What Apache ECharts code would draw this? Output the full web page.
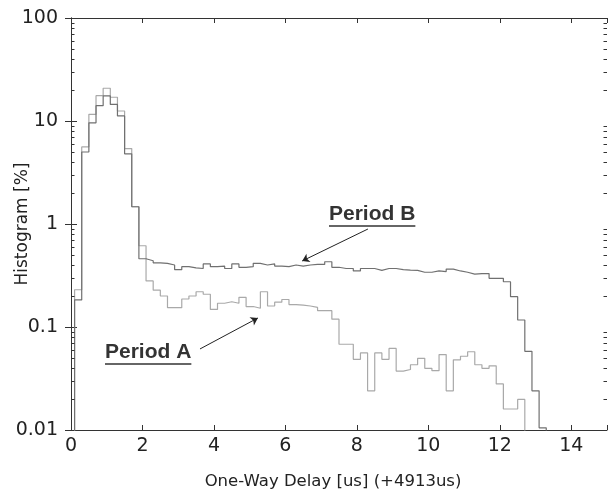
<!DOCTYPE html>
<html><head><meta charset="utf-8">
<script src="https://cdn.jsdelivr.net/npm/echarts@6/dist/echarts.min.js"></script>
<style>html,body{margin:0;padding:0;background:#fff}#c{width:608px;height:493px}</style>
</head><body><div id="c"></div>
<script>
// Histogram bins: left edge of first bin and bin width (us)
const binStart = 0.1;
const binWidth = 0.2;
// Period A histogram [%] per bin, starting at binStart
const periodA = [0.23, 5.6, 11.6, 17.6, 20.8, 17, 12.5, 5.4, 1.47, 0.615,
  0.28, 0.228, 0.20, 0.154, 0.154, 0.187, 0.20, 0.22, 0.208, 0.148,
  0.17, 0.176, 0.17, 0.194, 0.158, 0.152, 0.22, 0.16, 0.174, 0.185,
  0.165, 0.163, 0.16, 0.155, 0.144, 0.144, 0.119, 0.068, 0.068, 0.0485,
  0.056, 0.024, 0.056, 0.0485, 0.062, 0.0373, 0.0387, 0.043, 0.0497, 0.0397,
  0.0377, 0.054, 0.024, 0.048, 0.052, 0.0575, 0.043, 0.0397, 0.042, 0.028,
  0.016, 0.016, 0.0198];
// Period B histogram [%] per bin
const periodB = [0.183, 5.0, 9.6, 14.1, 17.5, 14.5, 11.2, 4.8, 1.47, 0.46,
  0.44, 0.42, 0.415, 0.40, 0.36, 0.385, 0.375, 0.37, 0.41, 0.385,
  0.39, 0.37, 0.41, 0.38, 0.385, 0.415, 0.40, 0.41, 0.39, 0.385,
  0.40, 0.39, 0.40, 0.405, 0.405, 0.43, 0.38, 0.37, 0.37, 0.35,
  0.37, 0.37, 0.355, 0.37, 0.37, 0.36, 0.357, 0.355, 0.34, 0.34,
  0.35, 0.345, 0.365, 0.35, 0.34, 0.326, 0.33, 0.33, 0.297, 0.297,
  0.275, 0.197, 0.117, 0.058, 0.024, 0.0105];
// Axis settings
const xMin = 0, xMax = 15, xStep = 2;
const yMin = 0.01, yMax = 100;
const yDecades = [0.01, 0.1, 1, 10];
const yMinorMultipliers = [2, 3, 4, 5, 6, 7, 8, 9];
const floorValue = 0.001; // below axis => drawn to the bottom edge
// Annotations: label text, arrow start (x,y), arrow tip (x,y)
const annB = { text: 'Period B', from: [8.31, 0.894], to: [6.47, 0.4375] };
const annA = { text: 'Period A', from: [3.61, 0.0612], to: [5.23, 0.1223] };

const yMinorTicks = [];
yDecades.forEach(d => yMinorMultipliers.forEach(m => yMinorTicks.push(+(d * m).toPrecision(3))));

function histPath(vals) {
  const pts = [[binStart, floorValue]];
  vals.forEach((v, i) => pts.push([+(binStart + i * binWidth).toFixed(3), v]));
  const end = +(binStart + vals.length * binWidth).toFixed(3);
  pts.push([end, floorValue]);
  return pts;
}

const axisColor = '#333';
const font = 'DejaVu Sans';
const chart = echarts.init(document.getElementById('c'), null, { renderer: 'canvas' });
chart.setOption({
  animation: false,
  backgroundColor: '#fff',
  grid: { left: 71, right: 1, top: 18, bottom: 63, containLabel: false, outerBoundsMode: 'none' },
  xAxis: [{
    type: 'value', min: xMin, max: xMax, interval: xStep, position: 'bottom',
    name: 'One-Way Delay [us] (+4913us)', nameLocation: 'middle', nameGap: 43, nameMoveOverlap: false,
    nameTextStyle: { fontFamily: font, fontSize: 16.5, color: '#222', padding: [0, 12, 0, 0] },
    axisLine: { show: true, lineStyle: { color: axisColor, width: 1 } },
    axisTick: { show: true, inside: true, length: 5, lineStyle: { color: axisColor } },
    axisLabel: { fontFamily: font, fontSize: 19, color: '#222', margin: 7,
      formatter: v => (v >= xMax ? '' : String(v)) },
    splitLine: { show: false }
  }, {
    type: 'value', min: xMin, max: xMax, interval: xStep, position: 'top',
    axisLine: { show: true, lineStyle: { color: axisColor, width: 1 } },
    axisTick: { show: true, inside: true, length: 5, lineStyle: { color: axisColor } },
    axisLabel: { show: false }, splitLine: { show: false }
  }],
  yAxis: [{
    type: 'log', logBase: 10, min: yMin, max: yMax, position: 'left',
    name: 'Histogram [%]', nameLocation: 'middle', nameGap: 40, nameMoveOverlap: false,
    nameTextStyle: { fontFamily: font, fontSize: 17, color: '#222' },
    axisLine: { show: true, lineStyle: { color: axisColor, width: 1 } },
    axisTick: { show: true, inside: true, length: 6, lineStyle: { color: axisColor } },
    axisLabel: { fontFamily: font, fontSize: 19, color: '#222', margin: 13,
      formatter: v => String(+v.toPrecision(2)) },
    splitLine: { show: false }
  }, {
    type: 'log', logBase: 10, min: yMin, max: yMax, position: 'right',
    axisLine: { show: true, lineStyle: { color: axisColor, width: 1 } },
    axisTick: { show: true, inside: true, length: 6, lineStyle: { color: axisColor } },
    axisLabel: { show: false }, splitLine: { show: false }
  }],
  series: [
    {
      name: 'Period A', type: 'line', step: 'end', data: histPath(periodA),
      xAxisIndex: 0, yAxisIndex: 0, showSymbol: false, clip: true,
      lineStyle: { color: '#a9a9a9', width: 1.2 }, z: 3
    },
    {
      name: 'Period B', type: 'line', step: 'end', data: histPath(periodB),
      xAxisIndex: 0, yAxisIndex: 0, showSymbol: false, clip: true,
      lineStyle: { color: '#707070', width: 1.2 }, z: 4,
      markLine: {
        silent: true, symbol: ['none', 'arrow'], symbolSize: 7, label: { show: false },
        lineStyle: { color: '#222', width: 1, type: 'solid' },
        data: [
          [{ coord: annB.from }, { coord: annB.to }],
          [{ coord: annA.from }, { coord: annA.to }]
        ]
      }
    },
    {
      type: 'custom', xAxisIndex: 0, yAxisIndex: 0, silent: true, z: 5,
      data: yMinorTicks.map(v => [xMin, v]),
      renderItem: (params, api) => {
        const cs = params.coordSys;
        const p = api.coord([xMin, api.value(1)]);
        const st = { stroke: axisColor, lineWidth: 1 };
        const y = Math.round(p[1]) + 0.5;
        return { type: 'group', children: [
          { type: 'line', shape: { x1: cs.x, y1: y, x2: cs.x + 3.5, y2: y }, style: st },
          { type: 'line', shape: { x1: cs.x + cs.width - 3.5, y1: y, x2: cs.x + cs.width, y2: y }, style: st }
        ] };
      }
    }
  ]
});

// Annotation labels (bold, underlined) placed relative to their arrows
const labelFont = 'bold 21px "Liberation Sans", Arial, sans-serif';
const mctx = document.createElement('canvas').getContext('2d');
mctx.font = labelFont;
function label(ann, dx, baselineDy) {
  const p = chart.convertToPixel({ gridIndex: 0 }, ann.from);
  const x = Math.round(p[0] + dx), base = Math.round(p[1] + baselineDy);
  const w = mctx.measureText(ann.text).width;
  return [
    { type: 'text', x: x, y: base, style: { text: ann.text, font: labelFont, fill: '#333', verticalAlign: 'bottom' } },
    { type: 'line', shape: { x1: x, y1: base + 1, x2: x + w, y2: base + 1 }, style: { stroke: '#666', lineWidth: 2 } }
  ];
}
chart.setOption({
  graphic: [].concat(label(annB, -39, -4), label(annA, -95, 14))
});
</script></body></html>
